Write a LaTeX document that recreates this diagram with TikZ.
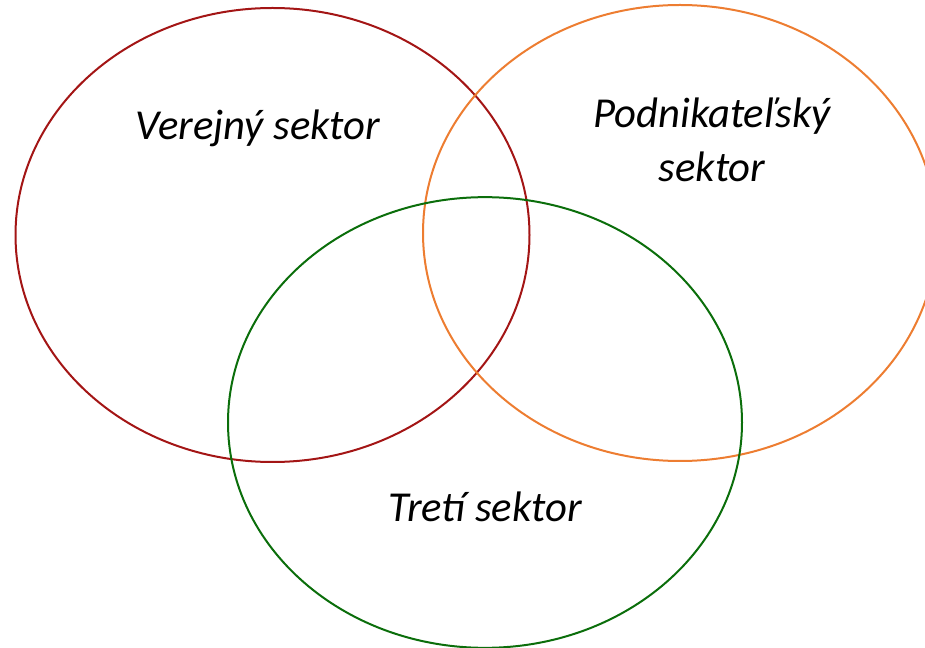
\documentclass[tikz,border=0pt]{standalone}
\usepackage{fontspec}
\setmainfont{Carlito}
\usetikzlibrary{shapes.geometric}
\definecolor{verejred}{HTML}{A31515}
\definecolor{podorange}{HTML}{ED7D31}
\definecolor{tretgreen}{HTML}{0B6E0B}
\begin{document}
\begin{tikzpicture}
[x=0.75pt, y=-0.75pt, line width=1.5pt,
sector/.style={ellipse, draw, inner sep=0pt, minimum width=385.5pt},
label/.style={font=\fontsize{32}{41}\selectfont\itshape, align=center, inner sep=0pt}
]

\useasboundingbox (0,0) rectangle (925,648);

\node[sector, draw=verejred, minimum height=340.5pt] (verej) at (272.5,235) {};
\node[sector, draw=podorange, minimum height=342pt] (podnik) at (680,233) {};
\node[sector, draw=tretgreen, minimum height=338pt] (tret) at (485,422.5) {};

\node[label] (verejtext) at (258,128) {Verejný sektor};
\node[label] (podniktext) at (712,140) {Podnikateľský\\sektor};
\node[label] (trettext) at (485,507) {Tretí sektor};

\end{tikzpicture}
\end{document}
